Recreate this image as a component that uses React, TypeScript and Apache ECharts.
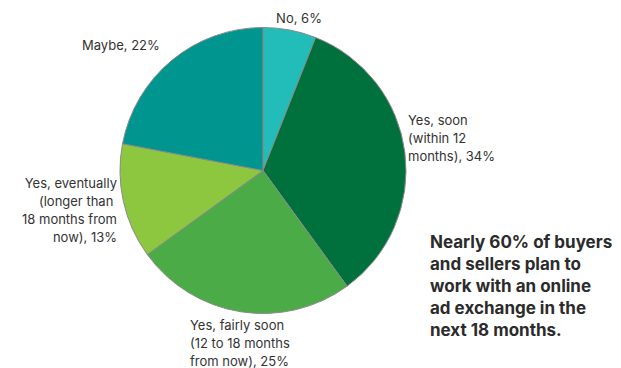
import React, { useEffect, useRef } from "react";
import * as echarts from "echarts";

const categories = [
  "No, 6%",
  "Yes, soon\n(within 12\nmonths), 34%",
  "Yes, fairly soon\n(12 to 18 months\nfrom now), 25%",
  "Yes, eventually\n(longer than \n18 months from\nnow), 13%",
  "Maybe, 22%",
];
const values = [6, 34, 25, 13, 22];
const colors = ["#22bdb9", "#00703c", "#4aab47", "#8dc63f", "#00958f"];
const noteText =
  "Nearly 60% of buyers\nand sellers plan to\nwork with an online\nad exchange in the\nnext 18 months.";

// label anchor positions (layout only)
const labelPos = [
  { x: 299, y: 18, align: "center" },
  { x: 408, y: 138, align: "left" },
  { x: 190, y: 343, align: "left" },
  { x: 117, y: 210, align: "right" },
  { x: 82, y: 45, align: "left" },
];

export default function App() {
  const ref = useRef<HTMLDivElement>(null);
  useEffect(() => {
    if (!ref.current) return;
    const chart = echarts.init(ref.current, null, { renderer: "svg" });
    chart.setOption({
      animation: false,
      title: {
        text: noteText,
        left: 425,
        top: 226,
        textStyle: {
          fontFamily: "Inter",
          fontWeight: "bold",
          fontSize: 17,
          lineHeight: 22,
          color: "#2b2b2b",
        },
      },
      series: [
        {
          type: "pie",
          center: [263, 170.5],
          radius: [0, 143],
          startAngle: 90,
          clockwise: true,
          label: {
            show: true,
            position: "outside",
            formatter: "{b}",
            fontFamily: "Inter",
            fontSize: 13,
            lineHeight: 18,
            color: "#333333",
            overflow: "none",
            width: 200,
          },
          labelLine: { show: false },
          labelLayout: (p: any) => {
            const lp = labelPos[p.dataIndex];
            return { x: lp.x, y: lp.y, align: lp.align, verticalAlign: "middle" };
          },
          itemStyle: { borderColor: "#8a8a8a", borderWidth: 1 },
          emphasis: { disabled: true },
          data: categories.map((c, i) => ({
            name: c,
            value: values[i],
            itemStyle: { color: colors[i] },
            label: { align: labelPos[i].align },
          })),
        },
      ],
    });
    return () => chart.dispose();
  }, []);
  return (
    <div
      ref={ref}
      style={{ position: "absolute", left: 0, top: 0, width: 621, height: 368, background: "#fff" }}
    />
  );
}
